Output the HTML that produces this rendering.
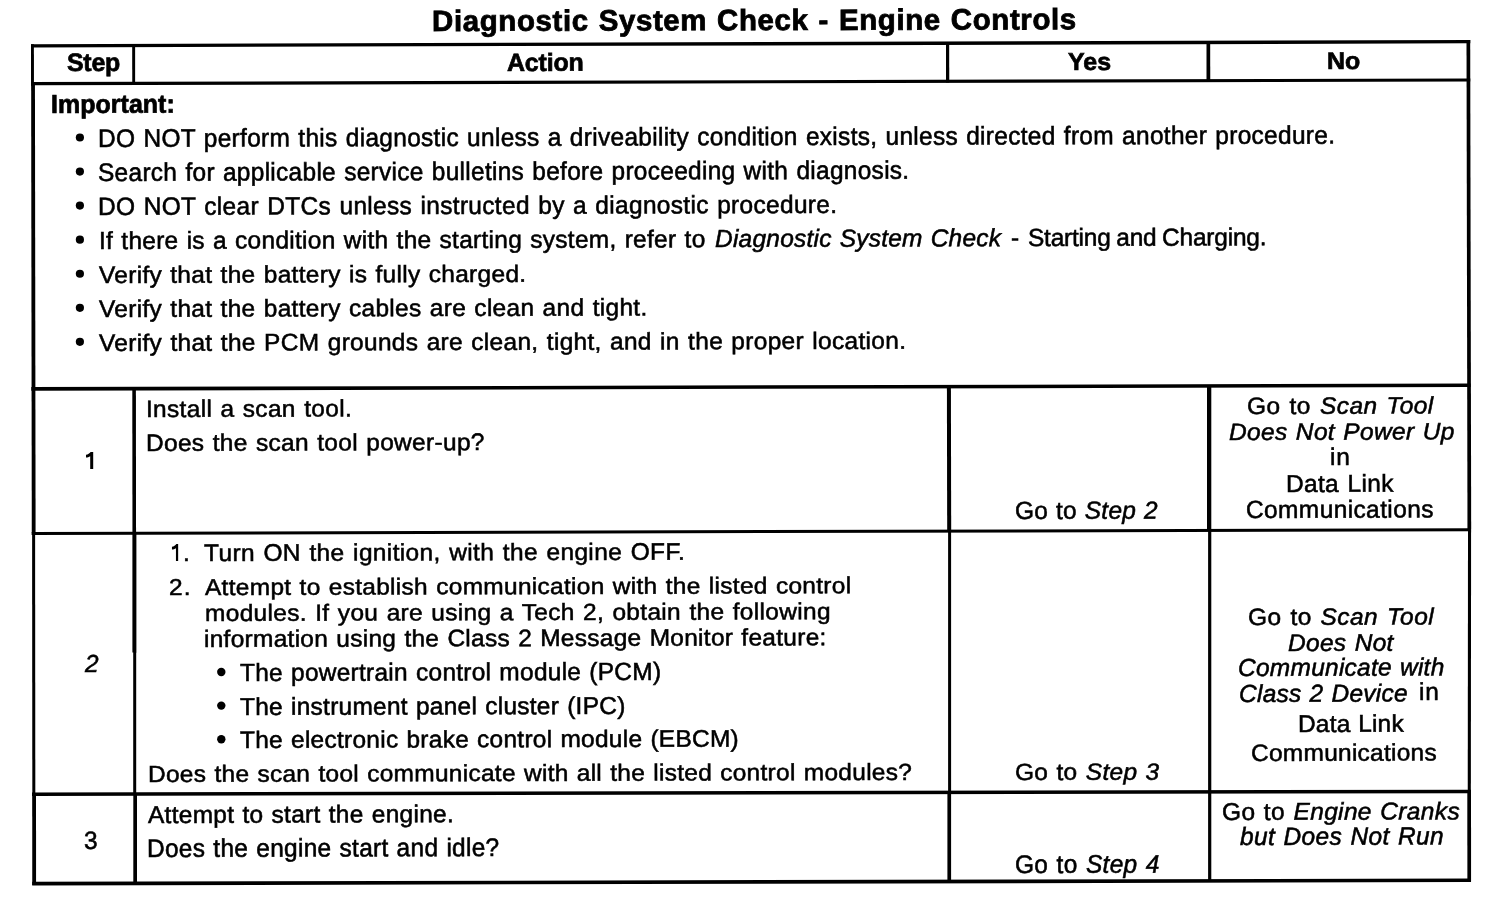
<!DOCTYPE html>
<html><head><meta charset="utf-8"><title>Diagnostic System Check - Engine Controls</title>
<style>
html,body{margin:0;padding:0;background:#fff;}
body{width:1504px;height:902px;position:relative;overflow:hidden;font-family:"Liberation Sans",sans-serif;color:#000;}
.t{position:absolute;white-space:pre;line-height:normal;transform:rotate(-0.158deg);}
.r{font-size:24.5px;-webkit-text-stroke:0.55px #000;transform-origin:0 22px;}
.b{font-size:25px;font-weight:bold;-webkit-text-stroke:0.7px #000;transform-origin:0 23px;}
.h{font-size:29.5px;font-weight:bold;-webkit-text-stroke:0.8px #000;transform-origin:0 27px;}
#w{position:absolute;left:0;top:0;width:1504px;height:902px;transform:translateZ(0);}
</style></head><body><div id="w">
<svg width="1504" height="902" viewBox="0 0 1504 902" style="position:absolute;left:0;top:0" fill="#000">
<polygon points="31.00,44.20 1470.30,40.03 1470.30,43.33 31.00,47.50"/>
<polygon points="31.00,82.00 1470.30,78.40 1470.30,81.60 31.00,85.20"/>
<polygon points="31.30,387.10 1470.70,383.50 1470.70,387.10 31.30,390.70"/>
<polygon points="31.60,532.00 1471.00,528.17 1471.00,531.17 31.60,535.00"/>
<polygon points="32.00,792.40 1471.00,789.67 1471.00,793.17 32.00,795.90"/>
<polygon points="32.20,881.80 1471.00,878.49 1471.00,882.09 32.20,885.40"/>
<polygon points="31.00,44.20 33.90,44.20 33.94,85.70 31.04,85.70"/>
<polygon points="31.15,85.00 34.95,85.00 35.58,532.50 31.78,532.50"/>
<polygon points="32.10,532.50 35.10,532.50 35.31,793.50 32.31,793.50"/>
<polygon points="32.20,793.00 36.00,793.00 36.09,885.00 32.29,885.00"/>
<polygon points="1466.50,40.00 1470.20,40.00 1471.18,529.00 1467.48,529.00"/>
<polygon points="1468.00,529.00 1471.10,529.00 1470.84,791.00 1467.74,791.00"/>
<polygon points="1467.30,790.50 1471.00,790.50 1471.09,881.50 1467.39,881.50"/>
<polygon points="132.20,44.00 135.10,44.00 135.14,84.00 132.24,84.00"/>
<polygon points="946.00,42.50 949.20,42.50 949.24,82.50 946.04,82.50"/>
<polygon points="1206.50,41.50 1210.20,41.50 1210.24,81.50 1206.54,81.50"/>
<polygon points="132.30,388.00 135.90,388.00 136.05,534.00 132.45,534.00"/>
<polygon points="132.40,533.50 136.40,533.50 136.40,652.50 132.40,652.50"/>
<polygon points="133.20,652.00 136.20,652.00 136.20,794.00 133.20,794.00"/>
<polygon points="133.30,793.50 137.00,793.50 137.00,884.50 133.30,884.50"/>
<polygon points="946.90,386.00 950.90,386.00 951.19,532.00 947.19,532.00"/>
<polygon points="948.10,531.00 951.10,531.00 951.10,793.00 948.10,793.00"/>
<polygon points="947.40,791.50 951.10,791.50 951.10,883.00 947.40,883.00"/>
<polygon points="1207.00,385.00 1211.30,385.00 1211.30,531.00 1207.00,531.00"/>
<polygon points="1208.10,530.00 1211.30,530.00 1211.30,882.00 1208.10,882.00"/>
<circle cx="79.90" cy="137.50" r="4.10"/>
<circle cx="79.90" cy="171.56" r="4.10"/>
<circle cx="79.90" cy="205.62" r="4.10"/>
<circle cx="79.90" cy="239.68" r="4.10"/>
<circle cx="79.90" cy="273.74" r="4.10"/>
<circle cx="79.90" cy="307.80" r="4.10"/>
<circle cx="79.90" cy="341.86" r="4.10"/>
<circle cx="221.30" cy="672.00" r="4.20"/>
<circle cx="221.30" cy="705.60" r="4.20"/>
<circle cx="221.30" cy="739.30" r="4.20"/>
<path transform="translate(86,451.9)" d="M7.2,0 L7.2,17.2 L4.20,17.2 L4.20,4.30 C2.94,5.16 1.47,5.50 0,5.68 L0,2.92 C1.89,2.58 3.57,1.20 4.60,0 Z"/>
<path transform="translate(171.95,544)" d="M6.2,0 L6.2,16.9 L4.00,16.9 L4.00,4.22 C2.80,5.07 1.40,5.41 0,5.58 L0,2.87 C1.80,2.53 3.40,1.18 4.40,0 Z"/>
</svg>
<div class="t h" style="left:432.0px;top:3.6px;letter-spacing:0.59px;word-spacing:1.18px;transform:rotate(-0.158deg) scaleY(0.995);">Diagnostic System Check - Engine Controls</div>
<div class="t b" style="left:67.4px;top:47.6px;letter-spacing:-0.30px;transform:rotate(-0.158deg) scaleY(1.006);">Step</div>
<div class="t b" style="left:507.0px;top:47.9px;letter-spacing:-0.18px;">Action</div>
<div class="t b" style="left:1068.2px;top:46.7px;letter-spacing:0.05px;transform:rotate(-0.158deg) scaleY(0.978);">Yes</div>
<div class="t b" style="left:1326.7px;top:45.5px;transform:rotate(-0.158deg) scaleY(0.961);">No</div>
<div class="t b" style="left:50.9px;top:89.7px;letter-spacing:0.02px;transform:rotate(-0.158deg) scaleY(1.040);">Important:</div>
<div class="t r" style="left:98.1px;top:124.6px;letter-spacing:0.28px;word-spacing:1.10px;transform:rotate(-0.158deg) scaleY(1.040);">DO NOT perform this diagnostic unless a driveability condition exists, unless directed from another procedure.</div>
<div class="t r" style="left:98.3px;top:158.7px;letter-spacing:0.27px;word-spacing:1.08px;transform:rotate(-0.158deg) scaleY(1.034);">Search for applicable service bulletins before proceeding with diagnosis.</div>
<div class="t r" style="left:98.1px;top:192.7px;letter-spacing:0.31px;word-spacing:1.24px;transform:rotate(-0.158deg) scaleY(1.020);">DO NOT clear DTCs unless instructed by a diagnostic procedure.</div>
<div class="t r" style="left:98.5px;top:260.8px;letter-spacing:0.29px;word-spacing:1.16px;transform:rotate(-0.158deg) scaleY(0.971);">Verify that the battery is fully charged.</div>
<div class="t r" style="left:98.5px;top:294.9px;letter-spacing:0.29px;word-spacing:1.17px;transform:rotate(-0.158deg) scaleY(0.982);">Verify that the battery cables are clean and tight.</div>
<div class="t r" style="left:98.5px;top:329.0px;letter-spacing:0.30px;word-spacing:1.21px;transform:rotate(-0.158deg) scaleY(0.977);">Verify that the PCM grounds are clean, tight, and in the proper location.</div>
<div class="t r" style="left:98.6px;top:226.8px;letter-spacing:0.27px;word-spacing:1.08px;transform:rotate(-0.158deg) scaleY(1.005);">If there is a condition with the starting system, refer to</div>
<div class="t r" style="left:714.9px;top:225.0px;letter-spacing:0.23px;word-spacing:0.93px;transform:rotate(-0.158deg) scaleY(1.006);"><i>Diagnostic System Check</i></div>
<div class="t r" style="left:1011.3px;top:224.2px;transform:rotate(-0.158deg) scaleY(1.007);">-</div>
<div class="t r" style="left:1028.0px;top:224.1px;letter-spacing:-0.23px;word-spacing:-0.91px;transform:rotate(-0.158deg) scaleY(1.007);">Starting and Charging.</div>
<div class="t r" style="left:146.0px;top:394.9px;letter-spacing:0.31px;word-spacing:1.23px;transform:rotate(-0.158deg) scaleY(0.965);">Install a scan tool.</div>
<div class="t r" style="left:146.0px;top:428.9px;letter-spacing:0.30px;word-spacing:1.21px;transform:rotate(-0.158deg) scaleY(0.971);">Does the scan tool power-up?</div>
<div class="t r" style="left:1015.0px;top:497.2px;letter-spacing:0.22px;word-spacing:0.87px;transform:rotate(-0.158deg) scaleY(1.011);">Go to <i>Step 2</i></div>
<div class="t r" style="left:1247.1px;top:392.4px;letter-spacing:0.44px;word-spacing:1.77px;transform:rotate(-0.158deg) scaleY(0.966);">Go to <i>Scan Tool</i></div>
<div class="t r" style="left:1229.1px;top:417.7px;letter-spacing:0.32px;word-spacing:1.27px;transform:rotate(-0.158deg) scaleY(0.969);"><i>Does Not Power Up</i></div>
<div class="t r" style="left:1330.3px;top:442.5px;letter-spacing:0.90px;transform:rotate(-0.158deg) scaleY(0.979);">in</div>
<div class="t r" style="left:1286.0px;top:469.6px;letter-spacing:0.33px;word-spacing:1.33px;transform:rotate(-0.158deg) scaleY(0.995);">Data Link</div>
<div class="t r" style="left:1246.4px;top:495.5px;letter-spacing:0.38px;transform:rotate(-0.158deg) scaleY(1.010);">Communications</div>
<div class="t r" style="left:183.0px;top:538.9px;transform:rotate(-0.158deg) scaleY(0.971);">.</div>
<div class="t r" style="left:203.9px;top:538.9px;letter-spacing:0.35px;word-spacing:1.40px;transform:rotate(-0.158deg) scaleY(0.971);">Turn ON the ignition, with the engine OFF.</div>
<div class="t r" style="left:168.9px;top:573.2px;letter-spacing:1.00px;transform:rotate(-0.158deg) scaleY(0.937);">2.</div>
<div class="t r" style="left:204.5px;top:572.7px;letter-spacing:0.28px;word-spacing:1.12px;transform:rotate(-0.158deg) scaleY(0.937);">Attempt to establish communication with the listed control</div>
<div class="t r" style="left:204.8px;top:598.8px;letter-spacing:0.31px;word-spacing:1.24px;transform:rotate(-0.158deg) scaleY(0.953);">modules. If you are using a Tech 2, obtain the following</div>
<div class="t r" style="left:204.2px;top:624.5px;letter-spacing:0.27px;word-spacing:1.07px;transform:rotate(-0.158deg) scaleY(0.973);">information using the Class 2 Message Monitor feature:</div>
<div class="t r" style="left:240.3px;top:658.9px;letter-spacing:0.25px;word-spacing:1.02px;transform:rotate(-0.158deg) scaleY(1.011);">The powertrain control module (PCM)</div>
<div class="t r" style="left:240.3px;top:692.5px;letter-spacing:0.25px;word-spacing:1.00px;transform:rotate(-0.158deg) scaleY(0.995);">The instrument panel cluster (IPC)</div>
<div class="t r" style="left:240.3px;top:726.2px;letter-spacing:0.25px;word-spacing:1.02px;transform:rotate(-0.158deg) scaleY(0.976);">The electronic brake control module (EBCM)</div>
<div class="t r" style="left:148.0px;top:759.6px;letter-spacing:0.27px;word-spacing:1.07px;transform:rotate(-0.158deg) scaleY(0.954);">Does the scan tool communicate with all the listed control modules?</div>
<div class="t r" style="left:85.2px;top:650.0px;"><i>2</i></div>
<div class="t r" style="left:1015.0px;top:758.1px;letter-spacing:0.29px;word-spacing:1.15px;transform:rotate(-0.158deg) scaleY(0.955);">Go to <i>Step 3</i></div>
<div class="t r" style="left:1248.2px;top:602.6px;letter-spacing:0.42px;word-spacing:1.66px;transform:rotate(-0.158deg) scaleY(0.956);">Go to <i>Scan Tool</i></div>
<div class="t r" style="left:1288.1px;top:628.5px;letter-spacing:0.30px;word-spacing:1.20px;transform:rotate(-0.158deg) scaleY(0.978);"><i>Does Not</i></div>
<div class="t r" style="left:1238.4px;top:654.4px;letter-spacing:0.25px;word-spacing:0.99px;transform:rotate(-0.158deg) scaleY(1.006);"><i>Communicate with</i></div>
<div class="t r" style="left:1239.1px;top:680.4px;letter-spacing:0.25px;word-spacing:1.01px;"><i>Class 2 Device</i></div>
<div class="t r" style="left:1418.5px;top:677.8px;letter-spacing:0.70px;">in</div>
<div class="t r" style="left:1297.5px;top:709.6px;letter-spacing:0.18px;word-spacing:0.73px;transform:rotate(-0.158deg) scaleY(0.986);">Data Link</div>
<div class="t r" style="left:1250.8px;top:738.7px;letter-spacing:0.25px;transform:rotate(-0.158deg) scaleY(0.968);">Communications</div>
<div class="t r" style="left:148.4px;top:800.9px;letter-spacing:0.27px;word-spacing:1.08px;transform:rotate(-0.158deg) scaleY(0.994);">Attempt to start the engine.</div>
<div class="t r" style="left:146.9px;top:834.8px;letter-spacing:0.26px;word-spacing:1.05px;transform:rotate(-0.158deg) scaleY(1.034);">Does the engine start and idle?</div>
<div class="t r" style="left:84.4px;top:827.0px;transform:rotate(-0.158deg) scaleY(1.025);">3</div>
<div class="t r" style="left:1015.0px;top:850.5px;letter-spacing:0.30px;word-spacing:1.20px;transform:rotate(-0.158deg) scaleY(1.034);">Go to <i>Step 4</i></div>
<div class="t r" style="left:1222.4px;top:798.4px;letter-spacing:0.34px;word-spacing:1.36px;transform:rotate(-0.158deg) scaleY(0.991);">Go to <i>Engine Cranks</i></div>
<div class="t r" style="left:1240.0px;top:823.0px;letter-spacing:0.33px;word-spacing:1.33px;transform:rotate(-0.158deg) scaleY(1.020);"><i>but Does Not Run</i></div>
</div></body></html>
